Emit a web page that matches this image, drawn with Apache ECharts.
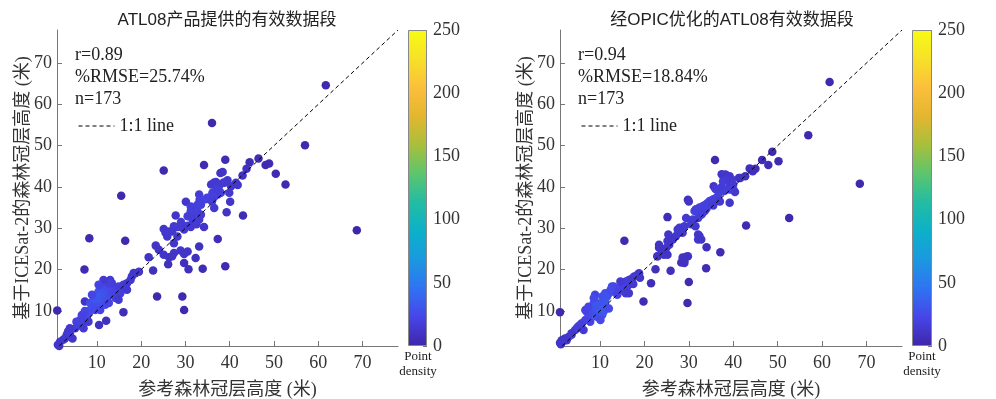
<!DOCTYPE html>
<html>
<head>
<meta charset="utf-8">
<script src="https://cdn.jsdelivr.net/npm/echarts@6/dist/echarts.min.js"></script>
<style>
  html, body { margin: 0; padding: 0; background: #fff; }
  #main { width: 996px; height: 399px; }
</style>
</head>
<body>
<div id="main"></div>
<script>
// 1:1 验证散点图 (参考高度 vs ICESat-2 高度)，点颜色 = 点密度

var axisTicks = [10, 20, 30, 40, 50, 60, 70];
var densityTicks = [0, 50, 100, 150, 200, 250];
var oneToOne = [[1.5, 1.5], [78, 78]];

var statsA = ['r=0.89', '%RMSE=25.74%', 'n=173'];
var statsB = ['r=0.94', '%RMSE=18.84%', 'n=173'];

// [参考高度, ICESat-2高度, 点密度]
// ATL08产品提供的有效数据段 —— 离散点
var sparseA = [
  [61.7, 64.6, 2], [36.0, 55.5, 2], [57.0, 50.1, 2], [25.1, 44.0, 3], [34.2, 45.3, 4],
  [39.0, 46.6, 5], [44.5, 46.0, 5], [46.5, 46.9, 5], [48.1, 45.3, 4], [48.9, 45.7, 4],
  [50.4, 43.2, 4], [52.6, 40.6, 3], [15.5, 37.9, 2], [68.7, 29.5, 1], [43.0, 33.1, 5],
  [8.3, 27.6, 3], [16.4, 27.0, 3], [7.2, 20.0, 4], [1.05, 10.1, 2], [16.0, 9.7, 6],
  [10.5, 6.6, 8], [12.1, 7.6, 8], [29.3, 13.5, 3], [29.7, 10.2, 3], [23.6, 13.5, 3],
  [22.7, 19.8, 7], [39.0, 20.8, 4], [33.9, 20.2, 5], [29.7, 21.6, 7], [26.1, 21.3, 7],
  [37.3, 27.4, 6], [33.1, 25.6, 8], [7.3, 12.3, 10]
];
// 20-45 米区间
var midA = [
  [37.9, 43.4, 10], [38.4, 43.6, 10], [43.8, 44.4, 8], [42.9, 42.8, 9],
  [35.8, 40.6, 14], [36.9, 41.2, 15], [37.6, 40.2, 16], [38.8, 41.0, 15], [39.5, 41.6, 14],
  [40.3, 40.2, 14], [41.4, 41.0, 12], [39.9, 38.6, 14], [36.5, 41.1, 14], [38.6, 41.1, 15],
  [41.8, 40.5, 12], [30.1, 36.4, 12], [33.1, 38.2, 16], [36.1, 38.6, 18], [33.2, 36.9, 18],
  [34.9, 37.4, 19], [35.8, 37.7, 19], [36.5, 37.6, 18], [37.3, 38.2, 18], [38.0, 38.6, 17],
  [31.2, 35.3, 17], [32.0, 34.9, 18], [32.7, 35.7, 18], [33.5, 35.7, 18], [40.1, 36.4, 11],
  [39.3, 33.9, 10], [36.5, 34.9, 14], [27.8, 33.1, 11], [31.2, 34.1, 18], [32.0, 33.7, 18],
  [32.7, 34.1, 18], [33.5, 33.3, 17], [30.5, 32.9, 16], [31.6, 32.1, 16], [33.1, 32.1, 15],
  [27.4, 30.5, 14], [28.2, 30.3, 15], [28.9, 30.3, 15], [29.7, 29.7, 15], [30.5, 30.6, 14],
  [31.2, 30.3, 14], [25.1, 29.8, 12], [25.5, 28.9, 13], [25.9, 28.0, 12], [26.3, 29.2, 13],
  [27.0, 29.2, 13], [28.2, 28.0, 13], [34.2, 30.3, 11], [23.3, 25.8, 10], [24.0, 24.8, 10],
  [25.1, 23.6, 11], [27.4, 26.4, 12], [28.9, 24.6, 12], [29.7, 23.8, 11], [30.5, 24.4, 11],
  [27.4, 24.0, 11], [26.3, 23.0, 10], [27.0, 23.2, 10], [21.7, 23.0, 10], [32.3, 22.8, 8],
  [30.7, 20.1, 7], [19.5, 19.5, 12], [18.3, 19.2, 13], [34.6, 37.0, 19], [37.0, 39.5, 17],
  [29.0, 31.5, 15], [32.5, 31.0, 15], [36.0, 36.5, 17]
];
// 0-20 米区间
var lowA = [
  [1.2, 1.8, 12], [1.7, 2.5, 12], [2.4, 3.0, 13], [3.2, 4.2, 14], [2.8, 3.3, 13],
  [3.5, 5.0, 15], [3.9, 4.6, 15], [5.1, 5.8, 17], [5.8, 6.4, 18], [5.4, 7.4, 18],
  [6.2, 7.8, 20], [6.6, 7.0, 20], [7.0, 5.8, 15], [7.0, 8.6, 21], [7.7, 8.2, 22],
  [8.1, 9.4, 24], [8.5, 10.2, 25], [7.3, 10.0, 22], [6.6, 9.0, 20], [8.9, 11.0, 27],
  [9.2, 11.9, 28], [8.5, 11.9, 27], [9.6, 12.7, 30], [9.2, 13.5, 28], [10.0, 13.9, 31],
  [10.4, 14.7, 30], [10.75, 15.1, 28], [11.1, 15.9, 25], [11.5, 16.7, 22], [10.75, 13.5, 32],
  [11.5, 14.3, 31], [11.9, 15.1, 28], [12.3, 15.9, 25], [10.0, 12.3, 31], [10.75, 11.9, 31],
  [11.5, 12.3, 30], [12.3, 13.1, 28], [13.0, 13.9, 25], [13.4, 15.1, 23], [13.0, 17.5, 15],
  [13.8, 14.3, 22], [14.5, 15.1, 20], [14.9, 15.9, 18], [14.2, 13.1, 18], [15.3, 14.3, 17],
  [15.7, 15.5, 17], [16.0, 16.3, 17], [16.8, 15.1, 14], [16.8, 16.7, 15], [17.6, 17.5, 14],
  [17.9, 18.3, 13], [18.7, 19.1, 12], [14.9, 12.7, 14], [10.0, 11.0, 27], [9.6, 10.2, 24],
  [10.75, 10.2, 21], [11.9, 11.5, 24], [12.7, 11.9, 21], [8.1, 7.4, 15], [3.9, 5.8, 14],
  [13.4, 16.7, 17], [12.7, 16.7, 18], [11.5, 17.5, 15], [10.4, 16.3, 21], [8.9, 13.9, 22],
  [1.5, 1.5, 11], [4.5, 3.3, 12]
];

// 经OPIC优化的ATL08有效数据段
var sparseB = [
  [61.7, 65.4, 2], [56.9, 52.5, 3], [68.5, 40.8, 2], [48.8, 48.5, 4], [46.5, 46.5, 5],
  [50.2, 46.2, 4], [47.9, 45.3, 5], [35.9, 46.5, 3], [1.0, 9.7, 2], [15.5, 27.0, 3],
  [19.8, 12.3, 5], [21.5, 16.7, 6], [29.7, 11.9, 3], [30.0, 17.0, 4], [22.5, 20.1, 7],
  [25.9, 19.7, 7], [33.9, 20.3, 5], [37.1, 24.2, 5], [34.0, 25.4, 7], [42.9, 30.7, 4],
  [52.6, 32.5, 2], [25.2, 32.7, 5], [29.8, 36.9, 8]
];
var midB = [
  [43.7, 44.5, 7], [44.4, 43.8, 7], [42.7, 42.6, 8], [41.3, 42.2, 9], [37.4, 43.1, 11],
  [38.4, 42.9, 12], [39.2, 42.6, 13], [35.6, 40.2, 12], [37.6, 39.6, 16], [39.3, 40.4, 16],
  [40.1, 39.2, 15], [40.4, 38.8, 14], [38.2, 43.0, 12], [38.9, 42.0, 13], [39.7, 41.8, 14],
  [38.5, 41.8, 15], [37.7, 41.4, 16], [40.0, 40.6, 15], [39.2, 39.4, 16], [37.4, 40.0, 16],
  [36.6, 37.8, 17], [41.6, 42.2, 10], [45.0, 44.4, 6], [39.2, 36.2, 12], [30.0, 36.5, 10],
  [31.3, 34.2, 18], [31.6, 34.6, 18], [32.4, 35.0, 19], [33.2, 35.4, 19], [33.9, 35.8, 19],
  [34.7, 36.6, 19], [35.5, 37.0, 19], [36.2, 37.4, 18], [33.6, 34.2, 18], [34.3, 36.2, 19],
  [32.8, 33.3, 17], [32.1, 32.5, 17], [30.9, 32.1, 16], [29.4, 32.5, 15], [29.0, 30.5, 15],
  [27.9, 30.1, 14], [27.5, 29.7, 14], [28.6, 28.9, 14], [27.1, 28.1, 13], [26.4, 27.3, 12],
  [32.1, 28.5, 12], [32.4, 28.1, 12], [32.8, 27.3, 11], [32.1, 27.3, 11], [25.4, 28.5, 11],
  [25.2, 26.9, 11], [23.3, 25.3, 10], [24.4, 23.6, 10], [25.2, 23.6, 10], [23.0, 23.2, 10],
  [28.6, 22.9, 10], [29.4, 23.1, 10], [29.0, 22.1, 9], [28.3, 21.7, 9], [24.1, 24.4, 11],
  [24.9, 25.2, 11], [25.6, 26.0, 11], [23.3, 26.0, 10], [22.9, 23.2, 10], [29.8, 23.2, 9],
  [29.0, 21.6, 9], [35.0, 36.0, 18], [36.8, 38.5, 18], [34.0, 34.8, 18], [30.5, 31.0, 15],
  [31.5, 30.5, 14], [33.0, 33.5, 17], [35.5, 35.5, 16], [37.0, 36.5, 15], [38.0, 39.0, 17],
  [36.0, 39.5, 16]
];
var lowB = [
  [18.8, 19.1, 12], [18.4, 18.7, 13], [17.7, 18.3, 14], [17.3, 17.9, 15], [16.5, 17.5, 15],
  [15.8, 17.1, 17], [15.4, 16.3, 18], [16.1, 15.9, 18], [15.0, 15.9, 20], [14.2, 15.1, 21],
  [13.5, 15.5, 22], [13.1, 15.9, 22], [12.7, 14.7, 25], [12.0, 14.3, 27], [11.6, 13.5, 28],
  [11.2, 12.7, 31], [10.5, 11.9, 32], [9.7, 11.0, 32], [8.9, 10.2, 31], [8.2, 9.4, 28],
  [7.4, 8.6, 25], [6.7, 7.8, 22], [5.9, 7.0, 20], [5.1, 6.2, 17], [4.4, 5.4, 15],
  [3.6, 4.6, 14], [2.9, 3.7, 13], [2.1, 3.3, 12], [1.4, 2.9, 12], [1.0, 2.3, 11],
  [1.2, 1.9, 11], [8.9, 13.9, 21], [8.6, 11.9, 27], [8.2, 11.0, 28], [8.9, 11.0, 31],
  [9.7, 9.8, 32], [10.5, 9.0, 29], [10.8, 9.8, 31], [9.3, 8.6, 28], [10.1, 7.8, 24],
  [7.0, 9.8, 24], [6.7, 10.2, 21], [7.8, 7.4, 21], [5.5, 6.6, 18], [4.8, 5.8, 17],
  [6.3, 5.4, 15], [3.6, 4.2, 14], [2.5, 2.9, 12], [1.75, 2.7, 12], [15.4, 15.5, 20],
  [16.5, 16.3, 17], [14.6, 17.1, 15], [12.7, 15.9, 24], [13.1, 15.1, 24], [14.2, 14.7, 21],
  [15.8, 14.3, 15], [16.5, 14.3, 14], [13.9, 13.9, 20], [11.2, 11.5, 31], [12.0, 10.6, 24],
  [10.1, 10.6, 32], [9.3, 11.9, 31], [7.4, 11.0, 22], [8.6, 13.1, 24], [10.5, 13.5, 28],
  [11.2, 14.3, 28], [12.4, 15.1, 25], [17.5, 16.5, 14], [19.0, 18.0, 11]
];

// parula 色带
var parula = ['#3e26a8', '#4745e8', '#2f73f2', '#1b98e0', '#0cb1c8', '#23bca3',
              '#5cc56e', '#a8bf3c', '#e3b630', '#fcbf3c', '#f6e128', '#f9fb14'];

var serif = '"Liberation Serif", "Times New Roman", serif';
var cjk = '"Liberation Serif", "Noto Sans CJK SC", serif';
var sans = '"Liberation Sans", "Noto Sans CJK SC", sans-serif';

var chart = echarts.init(document.getElementById('main'), null, { renderer: 'canvas' });

function valueAxis(gi, isY) {
  return {
    gridIndex: gi,
    type: 'value',
    min: isY ? 1.5 : 1,
    max: 78,
    name: isY ? '基于ICESat-2的森林冠层高度 (米)' : '参考森林冠层高度 (米)',
    nameLocation: 'middle',
    nameGap: isY ? 25 : 35,
    nameMoveOverlap: false,
    nameTextStyle: { fontFamily: cjk, fontSize: 18, color: '#333' },
    axisLine: { show: true, lineStyle: { color: '#777', width: 1 } },
    axisTick: { show: true, inside: true, length: 5, customValues: axisTicks, lineStyle: { color: '#777' } },
    axisLabel: { customValues: axisTicks, fontFamily: serif, fontSize: 18, color: '#333', margin: isY ? 5 : 8 },
    splitLine: { show: false }
  };
}

function cbarAxes(gi) {
  return {
    x: { gridIndex: gi, type: 'category', data: [''], show: false },
    y: {
      gridIndex: gi, type: 'value', min: 0, max: 250, interval: 50, position: 'right',
      axisLine: { show: false },
      axisTick: { show: true, inside: true, length: 4, customValues: densityTicks, lineStyle: { color: '#777' } },
      axisLabel: { customValues: densityTicks, fontFamily: serif, fontSize: 18, color: '#333', margin: 6 },
      splitLine: { show: false }
    }
  };
}

var cbGradient = new echarts.graphic.LinearGradient(0, 1, 0, 0,
  parula.map(function (c, i) { return { offset: i / (parula.length - 1), color: c }; }));

function statText(x, lines) {
  return lines.map(function (s, i) {
    return {
      type: 'text', left: x, top: 46 + i * 22,
      style: { text: s, font: '18px ' + serif, fill: '#222' }
    };
  });
}

var cbA = cbarAxes(2), cbB = cbarAxes(3);
var legendStyle = { fontFamily: serif, fontSize: 18, color: '#222' };

function lineLegend(x) {
  return {
    data: ['1:1 line'], left: x, top: 112, itemWidth: 36, itemHeight: 10, itemGap: 6,
    itemStyle: { opacity: 0 },
    lineStyle: { color: '#000', width: 1, type: [4, 3] },
    textStyle: legendStyle
  };
}

function grid(l, w) {
  return { left: l, top: 30, width: w, height: 316, outerBoundsMode: 'none', containLabel: false };
}

var option = {
  animation: false,
  backgroundColor: '#fff',
  grid: [grid(57, 341), grid(560, 342), grid(408, 19), grid(912, 20)],
  xAxis: [valueAxis(0, false), valueAxis(1, false), cbA.x, cbB.x],
  yAxis: [valueAxis(0, true), valueAxis(1, true), cbA.y, cbB.y],
  visualMap: {
    type: 'continuous', show: false, min: 0, max: 250, dimension: 2,
    seriesIndex: [0, 1], inRange: { color: parula }
  },
  legend: [lineLegend(73), lineLegend(576)],
  graphic: [
    { type: 'text', x: 227, y: 20,
      style: { text: 'ATL08产品提供的有效数据段', font: '17px ' + sans, fill: '#222', align: 'center', verticalAlign: 'middle' } },
    { type: 'text', x: 732, y: 20,
      style: { text: '经OPIC优化的ATL08有效数据段', font: '17px ' + sans, fill: '#222', align: 'center', verticalAlign: 'middle' } },
    { type: 'text', x: 418, y: 349,
      style: { text: 'Point\ndensity', font: '13px ' + serif, lineHeight: 15, fill: '#222', align: 'center' } },
    { type: 'text', x: 922, y: 349,
      style: { text: 'Point\ndensity', font: '13px ' + serif, lineHeight: 15, fill: '#222', align: 'center' } }
  ].concat(statText(75, statsA), statText(578, statsB)),
  series: [
    { name: 'A', type: 'scatter', xAxisIndex: 0, yAxisIndex: 0, symbolSize: 8.5,
      data: sparseA.concat(midA, lowA), itemStyle: { opacity: 1 } },
    { name: 'B', type: 'scatter', xAxisIndex: 1, yAxisIndex: 1, symbolSize: 8.5,
      data: sparseB.concat(midB, lowB), itemStyle: { opacity: 1 } },
    { name: '1:1 line', type: 'line', xAxisIndex: 0, yAxisIndex: 0, data: oneToOne, symbol: 'none', z: 5,
      lineStyle: { color: '#000', width: 1, type: [4, 3] }, itemStyle: { color: '#000' } },
    { name: '1:1 line', type: 'line', xAxisIndex: 1, yAxisIndex: 1, data: oneToOne, symbol: 'none', z: 5,
      lineStyle: { color: '#000', width: 1, type: [4, 3] }, itemStyle: { color: '#000' } },
    { type: 'bar', xAxisIndex: 2, yAxisIndex: 2, data: [250], barWidth: '100%', silent: true,
      itemStyle: { color: cbGradient, borderColor: '#888', borderWidth: 1 } },
    { type: 'bar', xAxisIndex: 3, yAxisIndex: 3, data: [250], barWidth: '100%', silent: true,
      itemStyle: { color: cbGradient, borderColor: '#888', borderWidth: 1 } }
  ]
};

chart.setOption(option);
</script>
</body>
</html>
